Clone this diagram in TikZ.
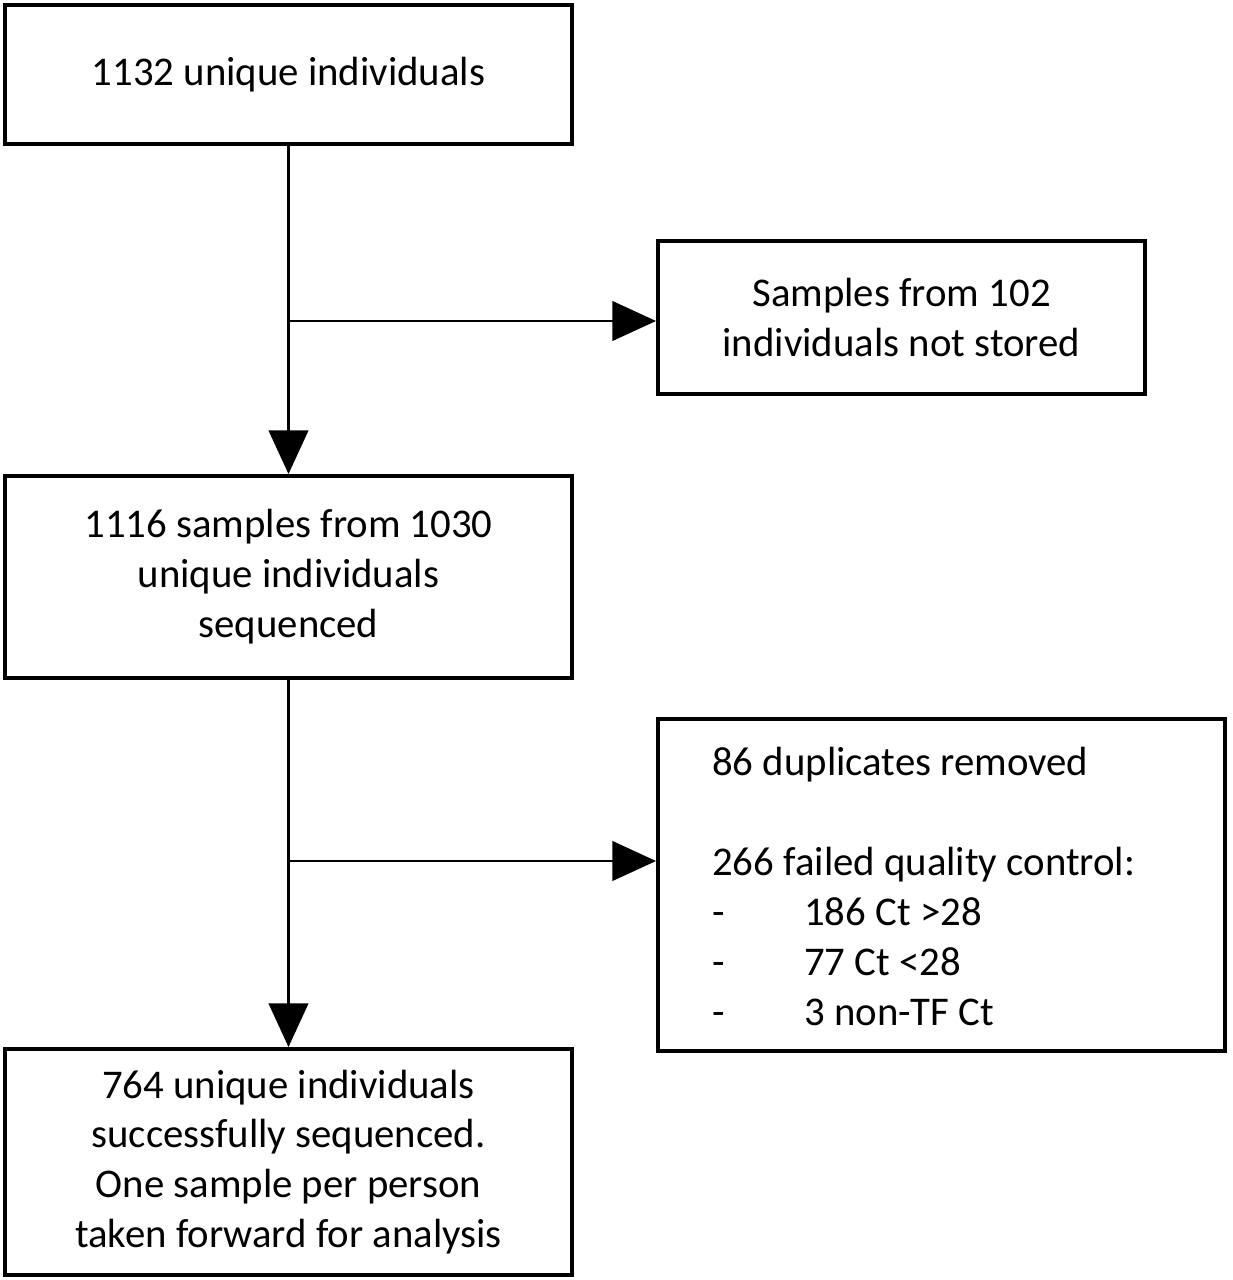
\documentclass[tikz,border=0pt]{standalone}
\usepackage{fontspec}
\setmainfont{Carlito}
\usetikzlibrary{arrows.meta}
\begin{document}
\begin{tikzpicture}[x=0.025cm,y=-0.025cm,
  box/.style={draw,line width=2.8pt,inner sep=0pt},
  txt/.style={align=center,font=\fontsize{29}{35.5}\selectfont},
  conn/.style={line width=2pt,-{Triangle[length=31pt,width=28pt]}}]
\useasboundingbox (0,0) rectangle (1232,1280);
\node[box,minimum width=567*0.025cm,minimum height=139*0.025cm] (b1) at (288.5,74.5) {};
\node[txt] at (b1) {1132 unique individuals};
\node[box,minimum width=487*0.025cm,minimum height=153*0.025cm] (b2) at (901.5,317.5) {};
\node[txt] at (b2) {Samples from 102\\individuals not stored};
\node[box,minimum width=567*0.025cm,minimum height=202*0.025cm] (b3) at (288.5,577) {};
\node[txt] at (b3) {1116 samples from 1030\\unique individuals\\sequenced};
\node[box,minimum width=567*0.025cm,minimum height=332*0.025cm] (b4) at (941.5,885) {};
\node[txt,align=left,anchor=north west,inner sep=0pt] at (712,747) {86 duplicates removed\\[35.5pt]266 failed quality control:\\\makebox[2.3cm][l]{-}186 Ct >28\\\makebox[2.3cm][l]{-}77 Ct <28\\\makebox[2.3cm][l]{-}3 non-TF Ct};
\node[box,minimum width=567*0.025cm,minimum height=226*0.025cm] (b5) at (288.5,1162) {};
\node[txt] at (b5) {764 unique individuals\\successfully sequenced.\\One sample per person\\taken forward for analysis};
\coordinate (j1) at (288,321);
\coordinate (j2) at (288,861);
\draw[conn] (b1.south) -- (b3.north);
\draw[conn] (j1) -- (j1 -| b2.west);
\draw[conn] (b3.south) -- (b5.north);
\draw[conn] (j2) -- (j2 -| b4.west);
\end{tikzpicture}
\end{document}
